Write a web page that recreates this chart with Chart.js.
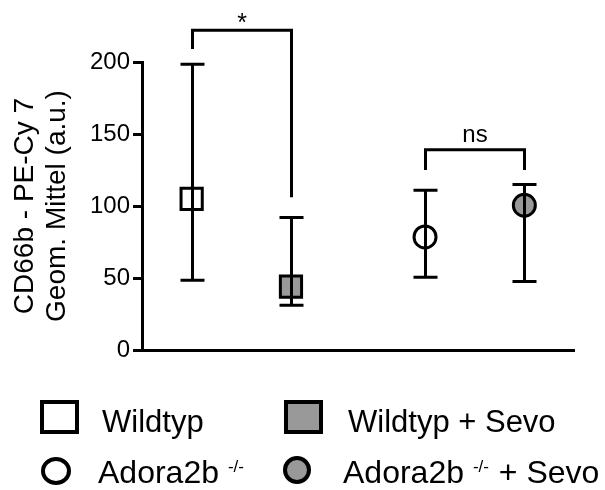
<!DOCTYPE html>
<html><head><meta charset="utf-8">
<script src="https://cdn.jsdelivr.net/npm/chart.js@4"></script>
<style>html,body{margin:0;padding:0;background:#fff}#wrap{width:605px;height:490px}</style>
</head><body><div id="wrap"><canvas id="c" width="605" height="490"></canvas></div>
<script>
// ---- data ----
const groups = ['Wildtyp', 'Wildtyp + Sevo', 'Adora2b -/-', 'Adora2b -/- + Sevo'];
const xPositions = [1, 2, 3.35, 4.35];
const means = [105, 44, 78.5, 100.5];
const upper = [198.5, 92, 111, 115];
const lower = [48.5, 31, 50.5, 47.5];
const yTicks = [0, 50, 100, 150, 200];
const sigPairs = [[0, 1], [2, 3]];
const sigLabels = ['*', 'ns'];
const sigBarY = [222, 139];
const sigLegEnds = [[209, 106], [125, 125]];
const yTitle = ['CD66b - PE-Cy 7', 'Geom. Mittel (a.u.)'];

const FONT = '"Liberation Sans", Arial, sans-serif';
const GREY = '#999999';
const styles = ['rect', 'rect', 'circle', 'circle'];
const fills = ['#ffffff', GREY, '#ffffff', GREY];

const datasets = groups.map((g, i) => ({
  label: g,
  data: [{ x: xPositions[i], y: means[i] }],
  pointStyle: styles[i],
  pointRadius: styles[i] === 'rect' ? 15 : 11,
  pointBorderWidth: 3,
  pointBorderColor: '#000',
  pointBackgroundColor: fills[i],
  showLine: false,
  clip: false
}));

const overlay = {
  id: 'overlay',
  afterDatasetsDraw(chart) {
    const ctx = chart.ctx, xs = chart.scales.x, ys = chart.scales.y;
    ctx.save();
    ctx.strokeStyle = '#000';
    ctx.lineWidth = 3;
    ctx.lineCap = 'butt';
    for (let i = 0; i < groups.length; i++) {
      const px = Math.round(xs.getPixelForValue(xPositions[i])) + 0.5;
      const t = ys.getPixelForValue(upper[i]);
      const b = ys.getPixelForValue(lower[i]);
      ctx.beginPath();
      ctx.moveTo(px, t); ctx.lineTo(px, b);
      ctx.moveTo(px - 12, t); ctx.lineTo(px + 12, t);
      ctx.moveTo(px - 12, b); ctx.lineTo(px + 12, b);
      ctx.stroke();
    }
    ctx.restore();
  },
  afterDraw(chart) {
    const ctx = chart.ctx, xs = chart.scales.x, ys = chart.scales.y;
    ctx.save();
    ctx.strokeStyle = '#000';
    ctx.fillStyle = '#000';
    ctx.lineWidth = 3;
    // significance brackets
    sigPairs.forEach((p, k) => {
      const x1 = Math.round(xs.getPixelForValue(xPositions[p[0]])) + 0.5;
      const x2 = Math.round(xs.getPixelForValue(xPositions[p[1]])) + 0.5;
      const yb = ys.getPixelForValue(sigBarY[k]);
      const y1 = ys.getPixelForValue(sigLegEnds[k][0]);
      const y2 = ys.getPixelForValue(sigLegEnds[k][1]);
      ctx.beginPath();
      ctx.moveTo(x1, y1); ctx.lineTo(x1, yb); ctx.lineTo(x2, yb); ctx.lineTo(x2, y2);
      ctx.lineJoin = 'miter';
      ctx.stroke();
      ctx.font = (k === 0 ? '25px ' : '24px ') + FONT;
      ctx.textAlign = 'center';
      ctx.textBaseline = 'alphabetic';
      ctx.fillText(sigLabels[k], (x1 + x2) / 2, k === 0 ? yb + 1 : yb - 8);
    });
    // y axis title
    ctx.font = '28px ' + FONT;
    ctx.textAlign = 'center';
    ctx.textBaseline = 'alphabetic';
    const cy = (chart.chartArea.top + chart.chartArea.bottom) / 2;
    [33, 65].forEach((bx, k) => {
      ctx.save();
      ctx.translate(bx, cy);
      ctx.rotate(-Math.PI / 2);
      ctx.fillText(yTitle[k], 0, 0);
      ctx.restore();
    });
    // legend
    ctx.textAlign = 'left';
    ctx.lineWidth = 4;
    const legendMarkers = [
      { type: 'rect', x: 40, y: 400, w: 39, h: 34, tx: 102, by: 432, fs: 31 },
      { type: 'rect', x: 284, y: 400, w: 39, h: 34, tx: 348, by: 432, fs: 31 },
      { type: 'circle', cx: 56, cy: 471, rx: 15, ry: 14, tx: 98, by: 483, fs: 32 },
      { type: 'circle', cx: 297, cy: 470, rx: 14, ry: 14, tx: 343, by: 483, fs: 32 }
    ];
    legendMarkers.forEach((m, i) => {
      ctx.fillStyle = fills[i];
      ctx.strokeStyle = '#000';
      ctx.beginPath();
      if (m.type === 'rect') ctx.rect(m.x + 2, m.y + 2, m.w - 4, m.h - 4);
      else ctx.ellipse(m.cx, m.cy, m.rx - 2, m.ry - 2, 0, 0, Math.PI * 2);
      ctx.fill();
      ctx.stroke();
      ctx.fillStyle = '#000';
      const name = groups[i];
      const big = m.fs + 'px ' + FONT;
      if (name.indexOf('-/-') < 0) {
        ctx.font = big;
        ctx.fillText(name, m.tx, m.by);
      } else {
        const parts = name.split(' -/-');
        ctx.font = big;
        ctx.fillText(parts[0], m.tx, m.by);
        let x = m.tx + ctx.measureText(parts[0] + ' ').width;
        ctx.font = '17px ' + FONT;
        ctx.fillText('-/-', x, m.by - 11);
        x += ctx.measureText('-/-').width + 1;
        if (parts[1]) {
          ctx.font = big;
          ctx.fillText(parts[1], x, m.by);
        }
      }
    });
    ctx.restore();
  }
};

new Chart(document.getElementById('c'), {
  type: 'scatter',
  data: { datasets },
  options: {
    responsive: false,
    devicePixelRatio: 1,
    animation: false,
    events: [],
    layout: { padding: { left: 0, right: 31, top: 62, bottom: 140 } },
    plugins: { legend: { display: false }, tooltip: { enabled: false }, title: { display: false } },
    scales: {
      x: {
        type: 'linear',
        min: 0.5,
        max: 4.85,
        grid: { display: false },
        border: { display: true, color: '#000', width: 3 },
        ticks: { display: false },
        afterFit(s) { s.height = 0; }
      },
      y: {
        min: 0,
        max: 200,
        afterBuildTicks(s) { s.ticks = yTicks.map(v => ({ value: v })); },
        grid: { display: true, drawOnChartArea: false, drawTicks: true, tickLength: 9, lineWidth: 3, color: '#000' },
        border: { display: true, color: '#000', width: 3 },
        ticks: { color: '#000', padding: 3, font: { size: 24, family: FONT } },
        afterFit(s) { s.width = 142; }
      }
    }
  },
  plugins: [overlay]
});
</script>
</body></html>
